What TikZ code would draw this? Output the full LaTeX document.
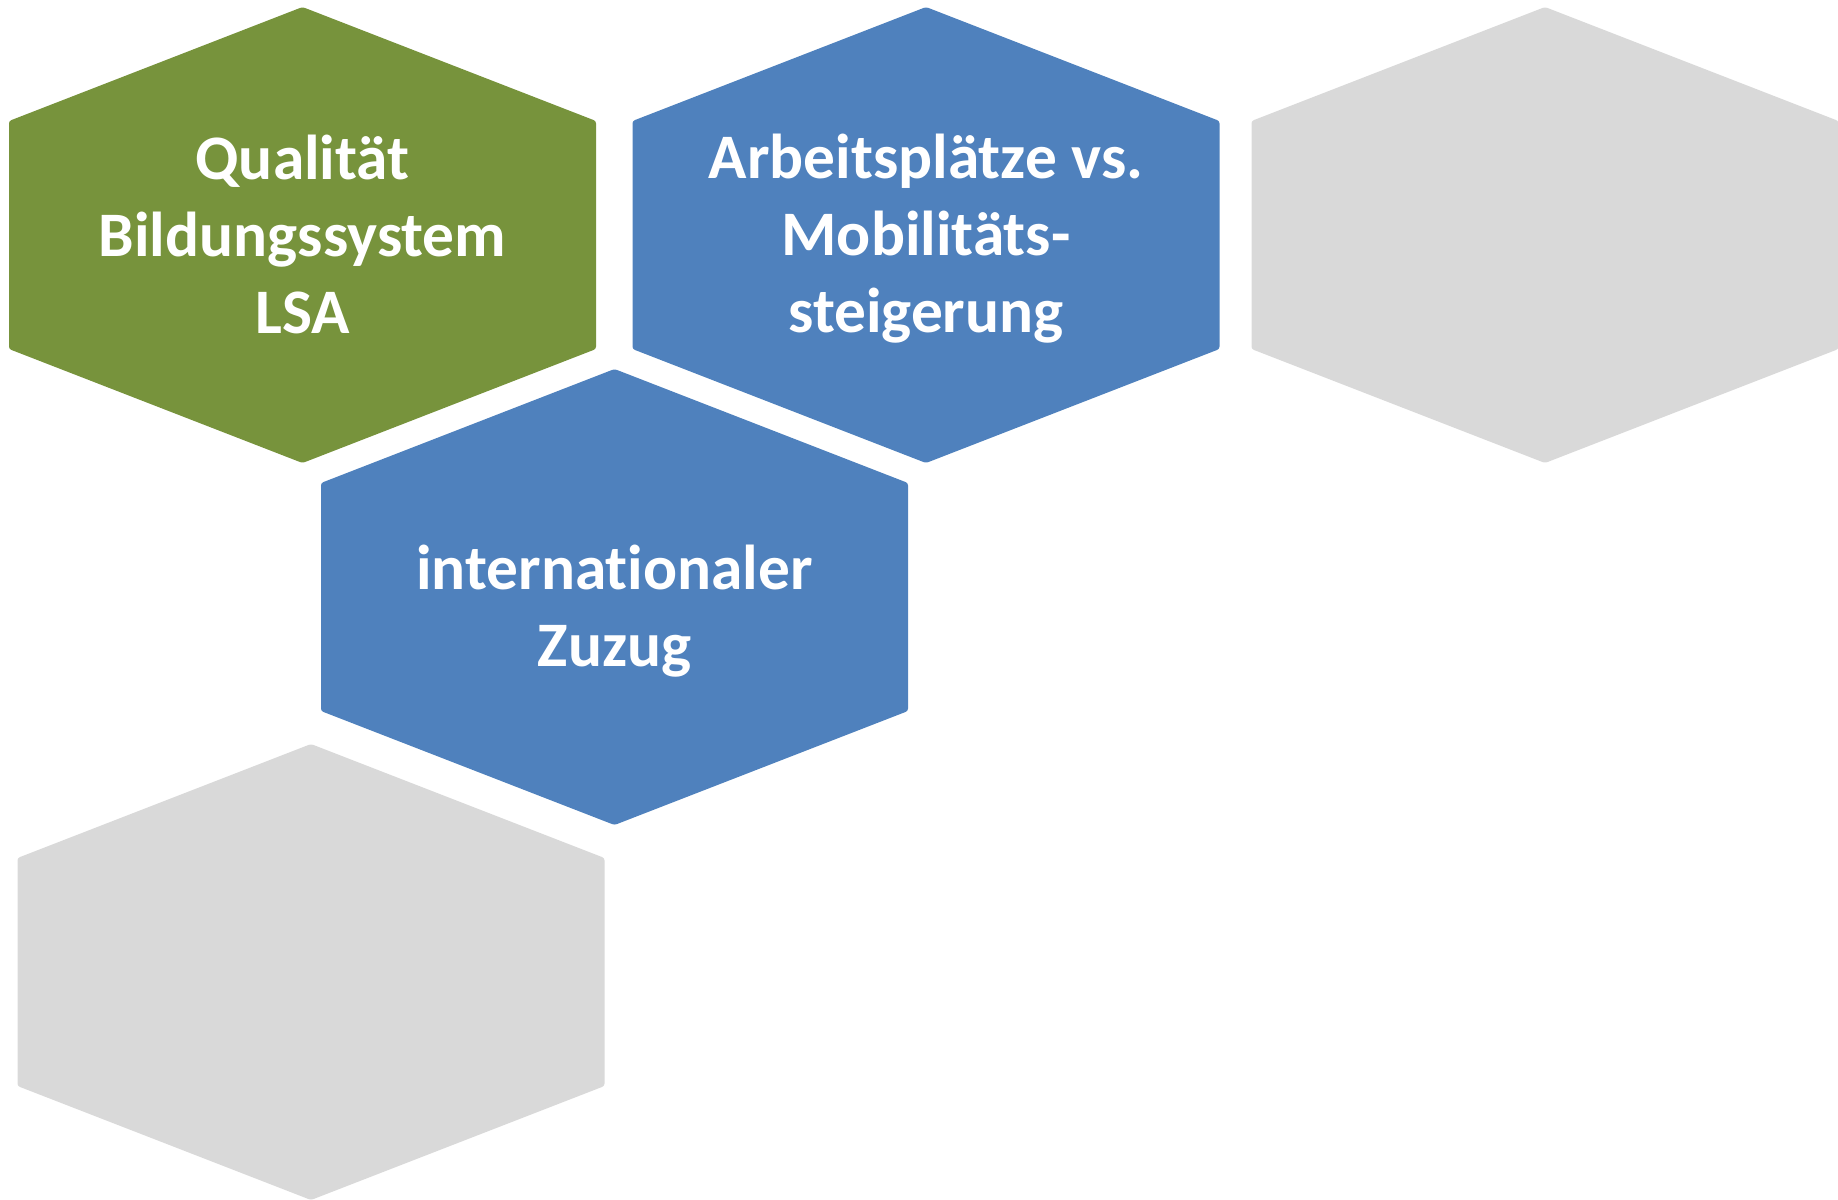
\documentclass[tikz,border=0pt]{standalone}
\usepackage{fontspec}
\setmainfont{Carlito}[Ligatures={NoCommon,NoRare,NoContextual}]
\definecolor{hexgreen}{HTML}{77933C}
\definecolor{hexblue}{HTML}{4F81BD}
\definecolor{hexgray}{HTML}{D9D9D9}
\tikzset{
  hexlabel/.style={text=white, align=center, font=\bfseries\fontsize{31.7pt}{38.5pt}\selectfont, inner sep=0pt},
}
\newcommand{\hexshape}[3]{% cx, cy, color
  \fill[#3, rounded corners=1.2pt] (#1,#2) ++(0,-228) -- ++(293.5,114) -- ++(0,228) -- ++(-293.5,114) -- ++(-293.5,-114) -- ++(0,-228) -- cycle;
}
\begin{document}
\begin{tikzpicture}[x=0.5pt, y=-0.5pt]
\useasboundingbox (0,0) rectangle (1838,1200);
\hexshape{302.5}{235}{hexgreen}
\hexshape{926}{235}{hexblue}
\hexshape{1545}{235}{hexgray}
\hexshape{614.5}{597}{hexblue}
\hexshape{311}{972}{hexgray}
\node[hexlabel] (qual) at (302.5,234) {Qualität\\Bildungssystem\\LSA};
\node[hexlabel] (arb) at (926,239) {Arbeitsplätze vs.\\Mobilitäts-\\steigerung};
\node[hexlabel] (intl) at (614.5,611) {internationaler\\Zuzug};
\end{tikzpicture}
\end{document}
